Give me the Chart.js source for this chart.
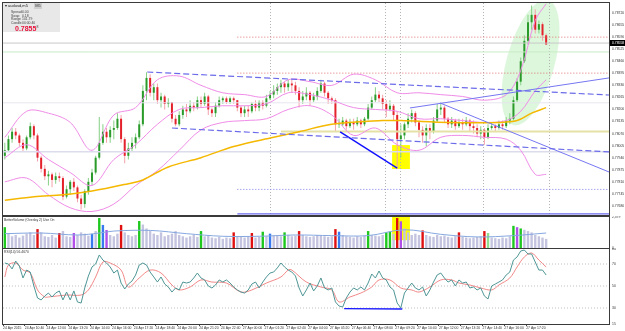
<!DOCTYPE html>
<html>
<head>
<meta charset="utf-8">
<script src="https://cdn.jsdelivr.net/npm/chart.js@4.4.0/dist/chart.umd.min.js"></script>
<style>
html, body { margin: 0; padding: 0; background: #fff; }
#wrap { position: relative; width: 625px; height: 331px; overflow: hidden; background: #fff; font-family: "Liberation Sans", "DejaVu Sans", sans-serif; }
#wrap canvas { position: absolute; left: 0; }
#info { position: absolute; left: 3px; top: 3px; width: 57px; height: 29px; background: #e8e8e8; color: #444; font-size: 3.4px; line-height: 3.6px; }
#info .hdr { position: absolute; left: 2px; top: 1px; font-size: 4px; color: #222; }
#info .tf { position: absolute; left: 31px; top: 0; width: 8px; height: 6px; background: #d0d0d0; font-size: 4px; line-height: 6px; text-align: center; color: #333; }
#info .rows { position: absolute; left: 8px; top: 8px; }
#info .rows span { display: inline-block; width: 11px; }
#info .big { position: absolute; left: 12px; top: 20px; font-size: 7px; font-weight: bold; color: #e8103a; line-height: 8px; }
#info .big sup { font-size: 3.5px; color: #444; font-weight: normal; }
.panel-label { position: absolute; font-size: 3.4px; color: #333; white-space: nowrap; }
</style>
</head>
<body>
<div id="wrap">
  <canvas id="mainChart" width="625" height="217" style="top:0"></canvas>
  <canvas id="volChart" width="625" height="33" style="top:216px"></canvas>
  <canvas id="rsiChart" width="625" height="83" style="top:248px"></canvas>
  <div id="info">
    <div class="hdr">&#9662; audusd,m5</div>
    <div class="tf">M5</div>
    <div class="rows">
      <div><span>Spread</span>0.00</div>
      <div><span>Swap</span>0.18</div>
      <div><span>Range</span>101.79</div>
      <div><span>Candle</span>00:00:40</div>
    </div>
    <div class="big">0.7855<sup>8</sup></div>
  </div>
  <div class="panel-label" style="left:4px;top:218px">BetterVolume (Overlay 2) Use On</div>
  <div class="panel-label" style="left:4px;top:250px">RSI(14) 56.4670</div>
</div>
<script>
// --- Price data (AUDUSD M5, one entry per candle) ---
const firstOpen = 0.7795;
const closes = [
  0.7798,0.7804,0.7808,0.7806,0.7802,0.7799,0.7805,0.7811,0.7806,0.7794,
  0.7788,0.7784,0.7785,0.7782,0.7784,0.7783,0.7773,0.7777,0.7781,0.7778,
  0.7772,0.7769,0.7776,0.7781,0.7786,0.7794,0.7802,0.7808,0.7805,0.7809,
  0.7810,0.7815,0.7804,0.7795,0.7799,0.7802,0.7805,0.7812,0.7830,0.7837,
  0.7829,0.7832,0.7825,0.7827,0.7823,0.7824,0.7815,0.7812,0.7817,0.7820,
  0.7819,0.7822,0.7821,0.7825,0.7823,0.7827,0.7820,0.7818,0.7822,0.7825,
  0.7826,0.7824,0.7826,0.7825,0.7821,0.7818,0.7820,0.7819,0.7823,0.7821,
  0.7824,0.7822,0.7826,0.7828,0.7830,0.7832,0.7834,0.7832,0.7834,0.7833,
  0.7830,0.7825,0.7827,0.7829,0.7825,0.7827,0.7830,0.7834,0.7829,0.7826,
  0.7825,0.7812,0.7812,0.7814,0.7811,0.7813,0.7812,0.7814,0.7812,0.7815,
  0.7821,0.7825,0.7828,0.7826,0.7823,0.7820,0.7822,0.7817,0.7804,0.7806,
  0.7812,0.7815,0.7818,0.7813,0.7809,0.7806,0.7810,0.7808,0.7814,0.7820,
  0.7821,0.7815,0.7812,0.7814,0.7811,0.7813,0.7812,0.7814,0.7811,0.7810,
  0.7807,0.7809,0.7805,0.7810,0.7811,0.7810,0.7812,0.7811,0.7814,0.7815,
  0.7825,0.7835,0.7846,0.7857,0.7867,0.7871,0.7863,0.7866,0.7860,0.7855
];
const highs = [
  0.7802,0.7806,0.7810,0.7810,0.7807,0.7804,0.7806,0.7813,0.7812,0.7807,
  0.7795,0.7790,0.7787,0.7786,0.7786,0.7786,0.7784,0.7779,0.7782,0.7783,
  0.7779,0.7774,0.7777,0.7783,0.7788,0.7795,0.7816,0.7812,0.7810,0.7811,
  0.7814,0.7818,0.7817,0.7805,0.7802,0.7805,0.7807,0.7814,0.7833,0.7840,
  0.7839,0.7834,0.7834,0.7829,0.7828,0.7826,0.7824,0.7817,0.7819,0.7822,
  0.7823,0.7825,0.7824,0.7827,0.7827,0.7829,0.7828,0.7821,0.7824,0.7827,
  0.7827,0.7827,0.7827,0.7827,0.7825,0.7822,0.7822,0.7822,0.7824,0.7825,
  0.7825,0.7825,0.7828,0.7830,0.7833,0.7834,0.7836,0.7835,0.7836,0.7836,
  0.7835,0.7832,0.7830,0.7832,0.7830,0.7829,0.7832,0.7836,0.7835,0.7830,
  0.7827,0.7826,0.7815,0.7816,0.7815,0.7815,0.7815,0.7816,0.7815,0.7816,
  0.7823,0.7827,0.7832,0.7830,0.7828,0.7825,0.7825,0.7823,0.7819,0.7812,
  0.7813,0.7818,0.7820,0.7819,0.7814,0.7811,0.7812,0.7812,0.7816,0.7823,
  0.7823,0.7822,0.7816,0.7816,0.7815,0.7815,0.7815,0.7816,0.7815,0.7814,
  0.7812,0.7811,0.7810,0.7812,0.7813,0.7812,0.7814,0.7814,0.7816,0.7818,
  0.7827,0.7837,0.7848,0.7860,0.7871,0.7876,0.7874,0.7868,0.7867,0.7861
];
const lows = [
  0.7793,0.7797,0.7802,0.7804,0.7800,0.7797,0.7798,0.7804,0.7804,0.7792,
  0.7786,0.7782,0.7779,0.7778,0.7780,0.7781,0.7771,0.7772,0.7774,0.7776,
  0.7770,0.7766,0.7767,0.7774,0.7779,0.7785,0.7793,0.7801,0.7802,0.7802,
  0.7804,0.7809,0.7802,0.7791,0.7793,0.7797,0.7799,0.7804,0.7811,0.7825,
  0.7827,0.7825,0.7823,0.7821,0.7820,0.7821,0.7813,0.7811,0.7811,0.7815,
  0.7816,0.7818,0.7819,0.7820,0.7821,0.7822,0.7817,0.7816,0.7816,0.7821,
  0.7823,0.7823,0.7823,0.7823,0.7819,0.7816,0.7816,0.7816,0.7818,0.7819,
  0.7819,0.7820,0.7821,0.7825,0.7826,0.7828,0.7829,0.7829,0.7830,0.7829,
  0.7828,0.7821,0.7823,0.7825,0.7822,0.7824,0.7825,0.7829,0.7827,0.7823,
  0.7823,0.7808,0.7810,0.7811,0.7809,0.7810,0.7809,0.7811,0.7810,0.7811,
  0.7814,0.7820,0.7824,0.7824,0.7820,0.7816,0.7819,0.7814,0.7788,0.7794,
  0.7804,0.7810,0.7813,0.7811,0.7805,0.7802,0.7800,0.7804,0.7807,0.7813,
  0.7817,0.7813,0.7810,0.7810,0.7809,0.7810,0.7809,0.7811,0.7808,0.7807,
  0.7805,0.7804,0.7801,0.7804,0.7809,0.7808,0.7809,0.7809,0.7810,0.7812,
  0.7814,0.7824,0.7833,0.7845,0.7855,0.7863,0.7861,0.7861,0.7857,0.7855
];

// --- Indicators on the price panel (sampled at candle indexes) ---
const bandBars  = [0, 6, 12, 18, 24, 30, 36, 42, 48, 54, 60, 66, 72, 78, 84, 90, 96, 102, 108, 114, 120, 126, 132, 138, 142, 146, 149];
const bandUpper = [0.7805,0.7819,0.7818,0.7813,0.7798,0.7817,0.7821,0.7836,0.7838,0.7833,0.7829,0.7828,0.7827,0.7836,0.7835,0.7833,0.7839,0.7836,0.7829,0.7829,0.7828,0.7827,0.7825,0.7828,0.7841,0.7868,0.7877];
const bandMid   = [0.7794,0.7801,0.7793,0.7786,0.7779,0.7793,0.7801,0.7812,0.7820,0.7821,0.7822,0.7822,0.7823,0.7829,0.7828,0.7825,0.7821,0.7820,0.7819,0.7815,0.7815,0.7814,0.7813,0.7814,0.7819,0.7830,0.7836];
const bandLower = [0.7781,0.7783,0.7774,0.7767,0.7765,0.7769,0.7779,0.7787,0.7798,0.7809,0.7813,0.7814,0.7815,0.7820,0.7822,0.7817,0.7806,0.7810,0.7801,0.7798,0.7805,0.7806,0.7805,0.7804,0.7798,0.7785,0.7785];
const maBars = [0, 8, 16, 24, 34, 38, 45, 54, 63, 74, 81, 90, 104, 109, 122, 136, 141, 145, 149];
const maVals = [0.7771,0.7773,0.7774,0.7776,0.7780,0.7782,0.7789,0.7794,0.7800,0.7805,0.7808,0.7812,0.7814,0.7814,0.7813,0.7813,0.7814,0.7818,0.7821];

// --- Drawn objects: [startBar, startPrice, endBar, endPrice] ---
const channelTop    = [39.2, 0.78402, 166.3, 0.78278];
const channelBottom = [46.0, 0.78100, 166.3, 0.77971];
const riseLine      = [111.5, 0.78208, 166.3, 0.78370];
const fallLine      = [119.8, 0.78235, 166.3, 0.77863];
const divergenceLine = [92.3, 0.78079, 108.0, 0.77884];
const levelPrices = { redHigh: 0.78590, redLow: 0.78396, khaki: 0.78081, purple: 0.77769, blue: 0.77637, gridA: 0.78236, gridB: 0.77972, ask: 0.78510 };
const bidPrice = 0.78558;
const highlightBox = [106.6, 111.5, 0.77879, 0.78008];
const ellipseAxis = [[139.9, 0.78116], [149.5, 0.78790]];
const ellipseHalfWidth = 6.6;
const sessionBars = [73.0, 104.6, 108.8, 131.6, 149.8];

// --- Axis ticks ---
const priceTicks = [0.77680,0.77745,0.77810,0.77875,0.77940,0.78005,0.78070,0.78135,0.78200,0.78265,0.78330,0.78395,0.78460,0.78525,0.78590,0.78655,0.78720];
const timeLabels = ['24 Apr 2015','24 Apr 10:40','24 Apr 12:00','24 Apr 13:20','24 Apr 14:40','24 Apr 16:00','24 Apr 17:20','24 Apr 18:40','24 Apr 20:00','24 Apr 21:20','24 Apr 22:40','27 Apr 00:00','27 Apr 01:20','27 Apr 02:40','27 Apr 04:00','27 Apr 05:20','27 Apr 06:40','27 Apr 08:00','27 Apr 09:20','27 Apr 10:40','27 Apr 12:00','27 Apr 13:20','27 Apr 14:40','27 Apr 16:00','27 Apr 17:20'];
const barsPerLabel = 6;

// --- Volume panel ---
const volumes = [
  1600,1100,900,1000,800,950,1100,1200,1000,1450,
  1200,900,850,1000,800,1150,1300,900,850,1150,
  1000,1200,1100,950,1070,1300,2300,1770,1380,1000,
  900,1100,1770,1200,1000,900,1000,2070,1800,1500,
  1300,1100,1000,1200,900,1000,1100,1300,1000,900,
  800,900,1000,850,1300,900,1000,800,750,850,
  700,800,750,1200,900,850,800,900,1150,800,
  850,1250,900,1100,950,1000,900,1200,1000,900,
  950,1300,1000,900,850,900,1000,950,900,850,
  900,1450,1250,1000,900,850,800,900,850,950,
  1300,1000,950,900,1000,1200,1250,1100,2300,2050,
  1500,1200,1000,1100,1000,1350,1000,900,850,1000,
  900,950,850,800,900,1200,850,800,750,800,
  850,900,1300,1150,800,750,700,800,750,900,
  1700,1600,1500,1400,1300,1200,1000,900,800,700
];
const volMarkBars  = [0, 9, 15, 19, 24, 26, 27, 28, 32, 37, 54, 63, 68, 71, 73, 77, 81, 91, 92, 100, 105, 106, 108, 109, 115, 125, 132, 133, 140, 141, 142];
const volMarkTypes = ['g','r','r','p','b','g','b','p','r','g','g','r','r','g','b','g','r','r','b','g','g','g','r','p','r','r','r','l','g','p','g'];
const volMaBars = [0, 10, 20, 26, 30, 40, 50, 60, 70, 80, 90, 100, 110, 120, 130, 140, 149];
const volMaVals = [1100,1150,1000,1150,1300,1350,1100,900,900,1000,950,950,1400,1050,850,950,1150];
const volMax = 2379;
const volBox = [106.6, 111.5, 600, 2379];

// --- RSI panel ---
const rsi = [
  70.9,70,65.5,72.7,68.2,57.3,64.5,62.7,50,39.1,
  37.3,40.9,43.6,40,43.6,45.5,37.3,44.5,37.3,45.5,
  35.5,34.5,48.2,59.1,67.3,70,78.2,73.6,70.9,67.3,
  61.8,64.5,52.7,47.3,51.8,54.5,60,69.1,70.9,69.1,
  62.7,58.2,53.6,58.2,51.8,49.1,44.5,48.2,46.4,53.6,
  52.7,53.6,57.3,61.8,57.3,55.5,50,48.2,50.9,55.5,
  53.6,55.5,52.7,49.1,46.4,44.5,43.6,46.4,51.8,53.6,
  48.2,53.6,58.2,61.8,62.7,66.4,70.9,67.3,64.5,62.7,
  59.1,48.2,40.9,46.4,52.7,45.5,50,57.3,48.2,46.4,
  48.2,35.5,31.8,30.9,39.1,44.5,48.2,46.4,49.1,46.4,
  52.7,60.9,57.3,63.6,57.3,55.5,49.1,46.4,34.5,30,
  43.6,48.2,52.7,48.2,46.4,49.1,40.9,46.4,53.6,60,
  61.8,57.3,53.6,55.5,50,55.5,52.7,53.6,48.2,49.1,
  46.4,48.2,40.9,38.2,50,51.8,53.6,55.5,60,62.7,
  73.6,76.4,81.8,82.7,79.1,79.1,71.8,64.5,64.5,60
];
const rsiMaBars = [0,1,3,5,7,9,11,12,17,21,23,25,27,29,32,34,37,40,43,46,48,51,54,57,61,65,68,72,76,78,79,83,87,90,92,95,98,101,103,106,109,112,114,117,120,123,125,128,131,134,136,139,141,143,145,147,149];
const rsiMaVals = [58.2,69.1,70.9,64.5,61.8,46.4,40,40,41.8,41.8,46.4,58.2,71.8,70.9,64.5,49.1,57.3,64.5,61.8,50.9,46.4,49.1,55.5,53.6,52.7,44.5,46.4,52.7,58.2,64.5,64.5,53.6,49.1,46.4,35.5,40,43.6,49.1,55.5,55.5,48.2,46.4,44.5,49.1,55.5,55.5,52.7,50.9,48.2,46.4,50.9,57.3,67.3,76.4,80,73.6,67.3];
const rsiLevels = [30, 50, 70];
const rsiMin = 15.45, rsiMax = 83.64;
const rsiTicks = [15.45, 30, 50, 70, 83.64];
const rsiDivergence = [93.4, 29.4, 109.4, 29.1];

// --- Scale limits (bar 0 is the first candle) ---
const X_MIN = -0.5, X_MAX = 166.3;
const PRICE_MIN = 0.77631, PRICE_MAX = 0.78774;

Chart.defaults.animation = false;
Chart.defaults.font.family = '"Liberation Sans", "DejaVu Sans", sans-serif';
Chart.defaults.plugins.legend.display = false;
Chart.defaults.plugins.tooltip.enabled = false;

const opens = closes.map((c, i) => i === 0 ? firstOpen : closes[i - 1]); // forex candles open at the prior close
const isUp = i => closes[i] >= opens[i];
const seg = (s, color, width, dash, order) => ({
  type: 'line', data: [{x: s[0], y: s[1]}, {x: s[2], y: s[3]}],
  borderColor: color, borderWidth: width, borderDash: dash || [], pointRadius: 0, order: order || 1
});
const level = (price, from, color, width, dash) => seg([from, price, X_MAX, price], color, width, dash, 6);
const curve = (xs, ys, color, width, order) => ({
  type: 'line', data: xs.map((b, i) => ({x: b, y: ys[i]})),
  borderColor: color, borderWidth: width, pointRadius: 0, tension: 0.35, order: order || 3
});

const xHidden = { type: 'linear', min: X_MIN, max: X_MAX, offset: false, display: false };
const fixY = (w) => s => { s.width = w; s.paddingTop = 0; s.paddingBottom = 0; };

// panel background + frame
const panelFrame = {
  id: 'panelFrame',
  beforeDraw(chart) {
    const {ctx, chartArea: a} = chart;
    ctx.save();
    ctx.fillStyle = '#ffffff';
    ctx.fillRect(a.left, a.top, a.right - a.left, a.bottom - a.top);
    ctx.restore();
  },
  afterDraw(chart) {
    const {ctx, chartArea: a} = chart;
    ctx.save();
    ctx.strokeStyle = '#3a3a3a';
    ctx.lineWidth = 1;
    ctx.strokeRect(Math.round(a.left) - 0.5, Math.round(a.top) - 0.5, Math.round(a.right - a.left) + 1, Math.round(a.bottom - a.top) + 1);
    ctx.restore();
  }
};

// --- Main price panel ---
const mainDecor = {
  id: 'mainDecor',
  beforeDatasetsDraw(chart) {
    const {ctx, chartArea: a, scales: {x, y}} = chart;
    ctx.save();
    ctx.beginPath();
    ctx.rect(a.left, a.top, a.right - a.left, a.bottom - a.top);
    ctx.clip();
    // shaded ellipse around the breakout
    const bx = x.getPixelForValue(ellipseAxis[0][0]), by = y.getPixelForValue(ellipseAxis[0][1]);
    const tx = x.getPixelForValue(ellipseAxis[1][0]), ty = y.getPixelForValue(ellipseAxis[1][1]);
    const ry = x.getPixelForValue(ellipseHalfWidth) - x.getPixelForValue(0);
    ctx.fillStyle = 'rgba(196,242,196,0.6)';
    ctx.beginPath();
    ctx.ellipse((bx + tx) / 2, (by + ty) / 2, Math.hypot(tx - bx, ty - by) / 2, ry, Math.atan2(ty - by, tx - bx), 0, Math.PI * 2);
    ctx.fill();
    // yellow highlight
    const l = x.getPixelForValue(highlightBox[0]), r = x.getPixelForValue(highlightBox[1]);
    const t = y.getPixelForValue(highlightBox[3]), b = y.getPixelForValue(highlightBox[2]);
    ctx.fillStyle = '#ffff00';
    ctx.fillRect(l, t, r - l, b - t);
    // session separators
    ctx.strokeStyle = '#b4b4b4';
    ctx.lineWidth = 1;
    ctx.setLineDash([1, 2]);
    sessionBars.forEach(sb => {
      const px = Math.round(x.getPixelForValue(sb)) + 0.5;
      ctx.beginPath(); ctx.moveTo(px, a.top); ctx.lineTo(px, a.bottom); ctx.stroke();
    });
    ctx.restore();
  },
  afterDraw(chart) {
    const {ctx, chartArea: a, scales: {y}} = chart;
    const py = Math.round(y.getPixelForValue(bidPrice));
    ctx.save();
    ctx.fillStyle = '#000';
    ctx.fillRect(a.right + 1, py - 3, 625 - a.right - 1, 6);
    ctx.fillStyle = '#fff';
    ctx.font = '3.4px "Liberation Sans", sans-serif';
    ctx.textBaseline = 'middle';
    ctx.fillText(bidPrice.toFixed(5), a.right + 3, py);
    ctx.restore();
  }
};

new Chart(document.getElementById('mainChart'), {
  type: 'bar',
  data: {
    datasets: [
      curve(bandBars, bandUpper, '#f08ce8', 1, 4),
      curve(bandBars, bandMid, '#f08ce8', 1, 4),
      curve(bandBars, bandLower, '#f08ce8', 1, 4),
      curve(maBars, maVals, '#f5b800', 1.5, 2),
      seg(channelTop, '#6b6bea', 1.2, [6, 3], 1),
      seg(channelBottom, '#6b6bea', 1.2, [6, 3], 1),
      seg(riseLine, '#7676f2', 1, [], 1),
      seg(fallLine, '#7676f2', 1, [], 1),
      seg(divergenceLine, '#1010ff', 1.4, [], 1),
      level(levelPrices.redHigh, 64, '#e07070', 1, [1, 2]),
      level(levelPrices.redLow, 64, '#e07070', 1, [1, 2]),
      level(levelPrices.khaki, 76, '#e6e2a6', 2, []),
      level(levelPrices.purple, 64, '#7b7bea', 1, [1, 2]),
      level(levelPrices.blue, 64, '#6a6af0', 1.2, []),
      level(levelPrices.gridA, X_MIN, '#e6e6ee', 1, []),
      level(levelPrices.gridB, X_MIN, '#dcdcec', 1.5, []),
      level(bidPrice, X_MIN, '#c8c8c8', 1, []),
      level(levelPrices.ask, X_MIN, '#c8ecc8', 1, []),
      {
        type: 'bar', label: 'wicks', order: 10, grouped: false, maxBarThickness: 1, borderWidth: 0,
        data: closes.map((c, i) => ({x: i, y: [lows[i], highs[i]]})),
        backgroundColor: c => isUp(c.dataIndex) ? '#86d086' : '#f3a2aa'
      },
      {
        type: 'bar', label: 'bodies', order: 9, grouped: false, maxBarThickness: 2, minBarLength: 1, borderWidth: 0,
        data: closes.map((c, i) => ({x: i, y: [opens[i], c]})),
        backgroundColor: c => isUp(c.dataIndex) ? '#2a9a2a' : '#e3222c'
      }
    ]
  },
  options: {
    responsive: false,
    layout: { padding: { left: 3, top: 3, right: 0, bottom: 2 } },
    scales: {
      x: xHidden,
      y: {
        position: 'right', min: PRICE_MIN, max: PRICE_MAX,
        afterFit: fixY(16),
        afterBuildTicks: s => { s.ticks = priceTicks.map(v => ({value: v})); },
        grid: { display: false, drawTicks: false }, border: { display: false },
        ticks: { font: { size: 3.4 }, color: '#333', padding: 3, callback: v => v.toFixed(5) }
      }
    }
  },
  plugins: [panelFrame, mainDecor]
});

// --- Volume panel ---
const volColors = { g: '#1ec81e', r: '#e01010', p: '#b050e8', b: '#3a7af0', l: '#8ee08e' };
const volDecor = {
  id: 'volDecor',
  beforeDatasetsDraw(chart) {
    const {ctx, scales: {x, y}} = chart;
    const l = x.getPixelForValue(volBox[0]), r = x.getPixelForValue(volBox[1]);
    const t = y.getPixelForValue(volBox[3]), b = y.getPixelForValue(volBox[2]);
    ctx.save();
    ctx.fillStyle = '#ffff00';
    ctx.fillRect(l, t, r - l, b - t);
    ctx.restore();
  }
};
new Chart(document.getElementById('volChart'), {
  type: 'bar',
  data: {
    datasets: [
      curve(volMaBars, volMaVals, '#86a8e0', 1, 1),
      {
        type: 'bar', order: 5, grouped: false, maxBarThickness: 2.4, borderWidth: 0,
        data: volumes.map((v, i) => ({x: i, y: v})),
        backgroundColor: c => {
          const k = volMarkBars.indexOf(c.dataIndex);
          return k < 0 ? '#c4c4e0' : volColors[volMarkTypes[k]];
        }
      }
    ]
  },
  options: {
    responsive: false,
    layout: { padding: { left: 3, top: 1, right: 0, bottom: 1 } },
    scales: {
      x: xHidden,
      y: {
        position: 'right', min: 0, max: volMax,
        afterFit: fixY(16),
        afterBuildTicks: s => { s.ticks = [{value: 0}, {value: volMax}]; },
        grid: { display: false, drawTicks: false }, border: { display: false },
        ticks: { font: { size: 3.4 }, color: '#333', padding: 3 }
      }
    }
  },
  plugins: [panelFrame, volDecor]
});

// --- RSI panel ---
new Chart(document.getElementById('rsiChart'), {
  type: 'line',
  data: {
    datasets: [
      ...rsiLevels.map(v => seg([X_MIN, v, X_MAX, v], '#c0c0c0', 1, [1, 2], 5)),
      seg(rsiDivergence, '#1a1aff', 1.4, [], 1),
      curve(rsiMaBars, rsiMaVals, '#f07a7a', 0.9, 3),
      { type: 'line', data: rsi.map((v, i) => ({x: i, y: v})), borderColor: '#4f9696', borderWidth: 1, pointRadius: 0, order: 2 }
    ]
  },
  options: {
    responsive: false,
    layout: { padding: { left: 3, top: 1, right: 0, bottom: 0 } },
    scales: {
      x: {
        type: 'linear', min: X_MIN, max: X_MAX, offset: false,
        afterFit: s => { s.height = 7; s.paddingLeft = 0; s.paddingRight = 0; },
        afterBuildTicks: s => { s.ticks = timeLabels.map((t, k) => ({value: k * barsPerLabel - 0.5})); },
        grid: { drawOnChartArea: false, drawTicks: true, tickLength: 2, color: '#444' }, border: { display: false },
        ticks: { font: { size: 3.4 }, color: '#333', align: 'start', maxRotation: 0, minRotation: 0, autoSkip: false, padding: 0,
                 callback: (v, i) => timeLabels[i] }
      },
      y: {
        position: 'right', min: rsiMin, max: rsiMax,
        afterFit: fixY(16),
        afterBuildTicks: s => { s.ticks = rsiTicks.map(v => ({value: v})); },
        grid: { display: false, drawTicks: false }, border: { display: false },
        ticks: { font: { size: 3.4 }, color: '#333', padding: 3, callback: v => Math.round(v) }
      }
    }
  },
  plugins: [panelFrame]
});
</script>
</body>
</html>
